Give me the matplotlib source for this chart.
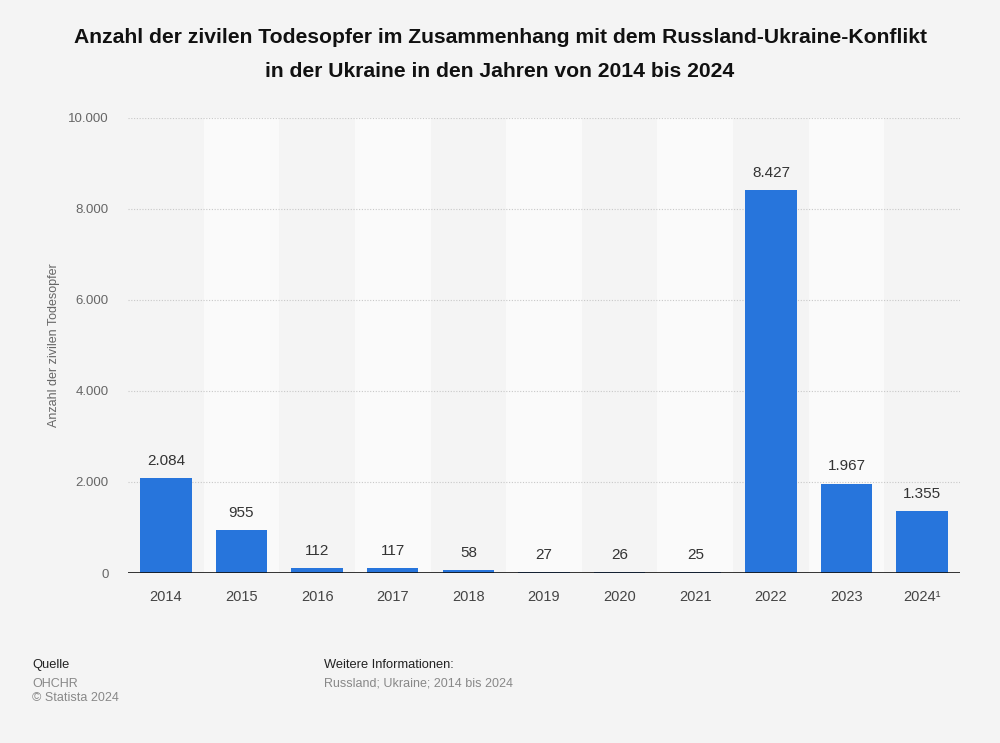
import numpy as np
import matplotlib.pyplot as plt

plt.rcParams['font.family'] = ['Liberation Sans', 'DejaVu Sans']

# --- DATA ---
years = ["2014", "2015", "2016", "2017", "2018", "2019", "2020", "2021", "2022", "2023", "2024\u00b9"]
deaths = [2084, 955, 112, 117, 58, 27, 26, 25, 8427, 1967, 1355]
y_ticks = [0, 2000, 4000, 6000, 8000, 10000]


def fmt_de(v):
    return f"{v:,}".replace(",", ".")


BG = "#f4f4f4"
BAR = "#2775dc"

fig = plt.figure(figsize=(10, 7.43), dpi=100, facecolor=BG)
ax = fig.add_axes([0.128, 0.2288, 0.832, 0.6124])
ax.set_facecolor(BG)

x = np.arange(len(years))

# alternating white column bands
for i in x:
    if i % 2 == 1:
        ax.axvspan(i - 0.5, i + 0.5, color="#fafafa", zorder=0, lw=0)

# grid
for t in y_ticks[1:]:
    ax.axhline(t, color="#c8c8c8", lw=0.8, ls=(0, (1, 1.5)), zorder=1)

ax.bar(x, deaths, width=0.68, color=BAR, zorder=3)
ax.axhline(0, color="#111111", lw=1.2, zorder=4)

for xi, v in zip(x, deaths):
    ax.text(xi, v + 220, fmt_de(v), ha="center", va="bottom", fontsize=11, color="#333333")

ax.set_xlim(-0.5, len(years) - 0.5)
ax.set_ylim(0, 10000)
ax.set_xticks(x)
ax.set_xticklabels(years, fontsize=10.5, color="#444444")
ax.set_yticks(y_ticks)
ax.set_yticklabels([fmt_de(t) for t in y_ticks], fontsize=9.5, color="#666666")
ax.tick_params(axis="both", length=0)
ax.tick_params(axis="x", pad=12)
ax.tick_params(axis="y", pad=14)
for s in ax.spines.values():
    s.set_visible(False)

ax.set_ylabel("Anzahl der zivilen Todesopfer", fontsize=9, color="#666666", labelpad=6)

fig.text(0.5, 0.962, "Anzahl der zivilen Todesopfer im Zusammenhang mit dem Russland-Ukraine-Konflikt\n"
         "in der Ukraine in den Jahren von 2014 bis 2024",
         ha="center", va="top", fontsize=15.2, fontweight="bold", color="#111111", linespacing=2.0)

# footer
fig.text(0.032, 0.105, "Quelle", fontsize=9.3, color="#222222", va="center")
fig.text(0.032, 0.080, "OHCHR", fontsize=9, color="#888888", va="center")
fig.text(0.032, 0.061, "\u00a9 Statista 2024", fontsize=9, color="#888888", va="center")
fig.text(0.324, 0.105, "Weitere Informationen:", fontsize=9.3, color="#222222", va="center")
fig.text(0.324, 0.080, "Russland; Ukraine; 2014 bis 2024", fontsize=9, color="#888888", va="center")

fig.savefig("out.png", dpi=100, facecolor=BG)
